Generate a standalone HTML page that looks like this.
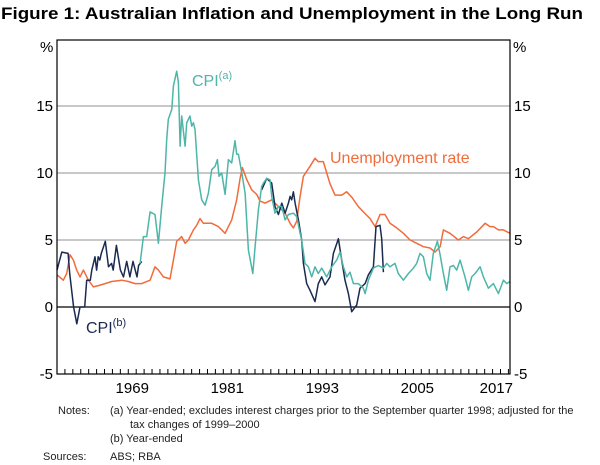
<!DOCTYPE html>
<html><head><meta charset="utf-8">
<style>
html,body{margin:0;padding:0;background:#fff;}
svg{display:block;font-family:"Liberation Sans",Arial,sans-serif;}
</style></head>
<body>
<svg id="chart" width="600" height="465" viewBox="0 0 600 465">
  <text x="1" y="19" font-size="17" font-weight="bold" textLength="582" lengthAdjust="spacingAndGlyphs">Figure 1: Australian Inflation and Unemployment in the Long Run</text>
  <g id="grid"></g>
  <g id="series"></g>
  <rect x="57" y="40" width="453" height="334" fill="none" stroke="#000" stroke-width="1.2"/>
  <g id="axes" font-size="15"></g>
  <text x="40" y="52" font-size="15">%</text>
  <text x="513" y="52" font-size="15">%</text>
  <text x="192" y="86" font-size="16" fill="#4db6a9">CPI<tspan font-size="11" dy="-7">(a)</tspan></text>
  <text x="330" y="163" font-size="16" fill="#f26b3a">Unemployment rate</text>
  <text x="86" y="333" font-size="16" fill="#1b2a50">CPI<tspan font-size="11" dy="-7">(b)</tspan></text>
  <g font-size="11" fill="#222">
    <text x="58" y="414">Notes:</text>
    <text x="110" y="414">(a) Year-ended; excludes interest charges prior to the September quarter 1998; adjusted for the</text>
    <text x="130" y="428">tax changes of 1999–2000</text>
    <text x="110" y="442">(b) Year-ended</text>
    <text x="43" y="460">Sources:</text>
    <text x="110" y="460">ABS; RBA</text>
  </g>
</svg>
<script>
const yTicks = [-5, 0, 5, 10, 15];
const xLabels = [1969, 1981, 1993, 2005, 2017];
const unempYears = [1960,1960.8,1961.22,1961.64,1962.07,1962.49,1962.91,1963.33,1963.96,1964.59,1965.22,1966.07,1966.91,1968.17,1969.01,1969.85,1970.7,1971.75,1972.38,1972.8,1973.43,1974.27,1974.7,1975.12,1975.75,1976.17,1976.59,1977.22,1977.64,1978.06,1978.48,1979.54,1980.38,1981.22,1981.64,1982.06,1982.69,1983.12,1983.41,1983.96,1984.59,1985.22,1985.64,1986.27,1987.11,1987.96,1988.8,1989.43,1989.85,1990.27,1990.69,1991.11,1991.95,1992.58,1993.0,1993.63,1994.47,1995.1,1995.95,1996.58,1997.21,1998.05,1998.68,1999.53,2000.16,2000.79,2001.42,2002.05,2002.89,2003.74,2004.58,2005.42,2006.26,2007.1,2007.73,2008.37,2008.79,2009.63,2010.68,2011.31,2011.95,2013.0,2014.05,2014.68,2015.1,2015.74,2016.37,2017.2];
const unempValues = [2.4,2,2.5,3.9,3.5,2.75,2.25,2.75,2,1.5,1.6,1.75,1.9,2,1.9,1.75,1.75,2,3,2.75,2.25,2.1,3.5,4.9,5.25,4.75,5,5.75,6.1,6.6,6.25,6.25,6,5.5,6,6.5,8,9.6,10.4,9.5,8.75,8.4,7.9,7.75,8,7.5,7,6.25,5.9,6.4,8.25,9.75,10.5,11.1,10.85,10.85,9.2,8.35,8.35,8.6,8.2,7.5,7.1,6.6,6,6.9,6.9,6.25,5.9,5.5,5,4.75,4.5,4.4,4.1,4.5,5.75,5.5,5,5.25,5.1,5.6,6.25,6,6,5.75,5.75,5.5];
const cpiAYears = [1970.49,1970.91,1971.33,1971.75,1972.38,1972.8,1973.22,1973.64,1973.85,1974.06,1974.49,1974.7,1975.12,1975.33,1975.54,1975.75,1976.17,1976.38,1976.8,1977.01,1977.22,1977.43,1977.85,1978.27,1978.7,1979.12,1979.54,1979.96,1980.25,1980.46,1980.8,1981.22,1981.64,1982.06,1982.48,1982.69,1982.9,1983.33,1983.75,1984.17,1984.72,1985.01,1985.43,1985.85,1986.06,1986.48,1986.9,1987.11,1987.53,1987.96,1988.38,1988.8,1989.22,1989.85,1990.27,1990.69,1990.9,1991.32,1991.74,1992.16,1992.58,1993.0,1993.42,1994.05,1994.69,1995.32,1995.74,1996.16,1996.58,1997.0,1997.42,1998.05,1998.68,1998.9,1999.32,1999.95,2000.58,2001.21,2001.63,2002.05,2002.68,2003.1,2003.74,2004.37,2005.0,2005.42,2005.84,2006.26,2006.68,2007.1,2007.52,2008.03,2008.37,2008.79,2009.21,2009.63,2010.05,2010.47,2010.9,2011.52,2011.95,2012.37,2012.79,2013.42,2013.84,2014.47,2015.1,2015.74,2016.37,2016.79,2017.2];
const cpiAValues = [3.25,5.25,5.25,7.1,6.9,4.75,7.5,10,12.5,14,14.75,16.5,17.6,16.75,12,14.25,12,13.75,14.25,13.5,13.75,13.25,9.5,8,7.6,8.5,10.25,10.5,11,9.75,10,8.4,11,10.75,12.4,11.4,11.4,10,8.5,4.25,2.5,4.5,7.25,9,9.25,9.6,9.5,8.25,7,7.5,7.5,6.5,6.9,7,6.75,5.5,5,3.25,3,2.25,3,2.5,2.9,2.25,3,3.5,4.1,3,2.25,2.6,1.75,1.75,1.4,1,2,2.9,3.1,2.9,3.25,3,3.25,2.5,2,2.5,2.9,3.25,4,3.75,2.5,2,4,4.9,3.9,2.5,1.25,3,3.1,2.75,3.5,2.25,1.25,2.25,2.5,3,2.25,1.4,1.75,1,2,1.75,1.9];
const cpiBYears1 = [1960,1960.6,1961.4,1961.6,1962.1,1962.5,1962.9,1963.5,1963.75,1964.2,1964.4,1964.8,1965.0,1965.2,1965.4,1965.6,1966.1,1966.5,1966.9,1967.1,1967.5,1968.0,1968.4,1968.8,1969.2,1969.6,1970.1,1970.3,1970.7];
const cpiBValues1 = [2.75,4.1,4,2.5,0,-1.25,0,0,2,2,2.75,3.75,2.75,3.75,3.5,4,4.9,3,3.25,2.75,4.6,2.75,2.25,3.4,2.25,3.4,2.25,3.1,3.4];
const cpiBYears2 = [1985.85,1986.48,1987.11,1987.53,1987.96,1988.38,1988.8,1989.22,1989.43,1989.64,1989.85,1990.06,1990.48,1990.9,1991.11,1991.53,1991.95,1992.58,1993.0,1993.42,1993.84,1994.47,1994.9,1995.53,1995.95,1996.37,1996.79,1997.21,1997.84,1998.26,1998.9,1999.32,1999.95,2000.28,2000.79,2001.0,2001.21];
const cpiBValues2 = [8.75,9.6,9.25,7.5,6.9,7.75,7,7.75,8.25,8,8.6,7.75,6.5,5,3.25,1.75,1.25,0.4,1.75,2.25,1.65,2.25,4,5.1,3.5,2,1,-0.35,0.15,1.4,1.75,2.4,3,6,6.1,5.1,2.6];

const NS = "http://www.w3.org/2000/svg";
const X0 = 57, X1 = 510, YEAR0 = 1960, YEAR1 = 2017.2;
const xScale = y => X0 + (y - YEAR0) / (YEAR1 - YEAR0) * (X1 - X0);
const yScale = v => 307 - v * 13.4;
function mk(tag, attrs, parent){ const e=document.createElementNS(NS,tag); for(const k in attrs) e.setAttribute(k,attrs[k]); parent.appendChild(e); return e; }
const grid = document.getElementById('grid');
const axes = document.getElementById('axes');
const series = document.getElementById('series');
yTicks.forEach(t => {
  if (t === 15 || t === 10 || t === 5) {
    const l = mk('line',{x1:X0,x2:X1,y1:yScale(t),y2:yScale(t),stroke:'#a6a6a6','stroke-width':1.2},grid);
    
    
  }
  if (t === 0) {
    const l = mk('line',{x1:X0,x2:X1,y1:yScale(0),y2:yScale(0),stroke:'#000','stroke-width':1.2},grid);
    
    
  }
  const a = mk('text',{x:53,y:yScale(t)+5,'text-anchor':'end'},axes); a.textContent=t;
  
  
  const b = mk('text',{x:514,y:yScale(t)+5},axes); b.textContent=t;
  
  
});
for (let yr = 1961; yr <= 2017; yr++) {
  const x = xScale(yr);
  const tk = mk('line',{x1:x,x2:x,y1:374,y2:369,stroke:'#000','stroke-width':1},axes);
  
  
}
xLabels.forEach(yr => {
  let x = xScale(yr + 0.5);
  const anchor = yr === 2017 ? 'end' : 'middle';
  if (yr === 2017) x = 513;
  const t = mk('text',{x:x,y:393,'text-anchor':anchor},axes); t.textContent=yr;
  
  
});
function line(xs, vs, color, name){
  const d = xs.map((x,i)=>(i?'L':'M')+xScale(x).toFixed(1)+','+yScale(vs[i]).toFixed(1)).join('');
  const p = mk('path',{d:d,fill:'none',stroke:color,'stroke-width':1.5,'stroke-linejoin':'round'},series);
  
  
}
line(unempYears, unempValues, '#f26b3a', 'unemployment-line');
line(cpiBYears1, cpiBValues1, '#1b2a50', 'cpi-b-line-early');
line(cpiBYears2, cpiBValues2, '#1b2a50', 'cpi-b-line-late');
line(cpiAYears, cpiAValues, '#4db6a9', 'cpi-a-line');
</script>
</body></html>
